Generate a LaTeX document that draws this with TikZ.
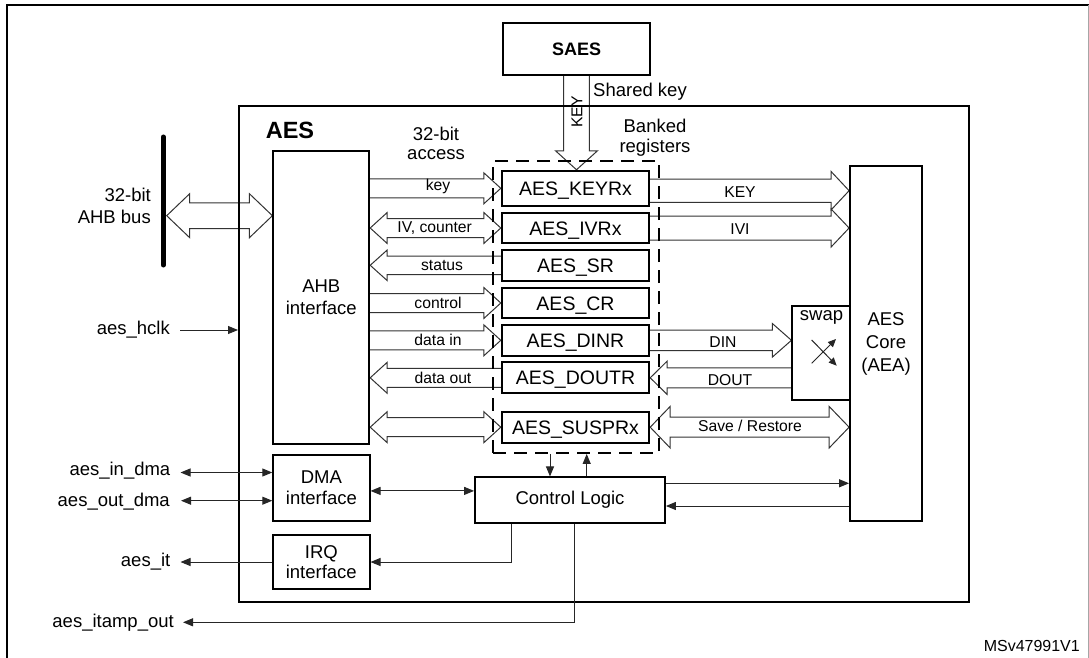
\documentclass[tikz,border=0pt]{standalone}
\usepackage{fontspec}
\setmainfont{Liberation Sans}
\usetikzlibrary{arrows.meta,calc,backgrounds}

\newcommand\hollowR[5]{\draw[hollow] let \p1=(#1), \p2=(#2) in (\x1,\y2+#3pt) -- (\x2-#5pt,\y2+#3pt) -- (\x2-#5pt,\y2+#4pt) -- (\x2,\y2) -- (\x2-#5pt,\y2-#4pt) -- (\x2-#5pt,\y2-#3pt) -- (\x1,\y2-#3pt);}
\newcommand\hollowL[5]{\draw[hollow] let \p1=(#1), \p2=(#2) in (\x1,\y2+#3pt) -- (\x2+#5pt,\y2+#3pt) -- (\x2+#5pt,\y2+#4pt) -- (\x2,\y2) -- (\x2+#5pt,\y2-#4pt) -- (\x2+#5pt,\y2-#3pt) -- (\x1,\y2-#3pt);}
\newcommand\hollowD[5]{\draw[hollow] let \p1=(#1), \p2=(#2) in (\x1,\y1) -- (\x1+#5pt,\y1+#4pt) -- (\x1+#5pt,\y1+#3pt) -- (\x2-#5pt,\y1+#3pt) -- (\x2-#5pt,\y1+#4pt) -- (\x2,\y1) -- (\x2-#5pt,\y1-#4pt) -- (\x2-#5pt,\y1-#3pt) -- (\x1+#5pt,\y1-#3pt) -- (\x1+#5pt,\y1-#4pt) -- cycle;}
\newcommand\hollowV[5]{\draw[hollow] let \p1=(#1), \p2=(#2) in (\x1+#3pt,\y1) -- (\x1+#3pt,\y2+#5pt) -- (\x1+#4pt,\y2+#5pt) -- (\x1,\y2) -- (\x1-#4pt,\y2+#5pt) -- (\x1-#3pt,\y2+#5pt) -- (\x1-#3pt,\y1);}

\begin{document}
\begin{tikzpicture}[x=1pt,y=-1pt,
  box/.style={draw=black, line width=1.8pt, fill=white, inner sep=0pt},
  reg/.style={box, minimum width=147.6pt, text height=14pt, text depth=0pt, font=\fontsize{19.5}{22}\selectfont},
  txt/.style={inner sep=0pt, font=\fontsize{18.5}{21}\selectfont},
  lbl/.style={inner sep=0pt, font=\fontsize{15.7}{18}\selectfont},
  hollow/.style={draw=black!80, line width=1pt, fill=white, line join=miter},
  conn/.style={draw=black!85, line width=1pt},
  tipa/.style={-{Triangle[length=10pt,width=8pt]}},
  dtip/.style={{Triangle[length=10pt,width=8pt]}-{Triangle[length=10pt,width=8pt]}},
  stip/.style={-{Triangle[length=8pt,width=7pt]}}
]
\useasboundingbox (0,0) rectangle (1089,658);

% outer frame
\draw[line width=1.8pt] (7,658) -- (7,5) -- (1089,5);
\draw[black!35, line width=0.8pt] (1088,5) -- (1088,658);

% AES block
\node[draw=black, line width=2pt, minimum width=730pt, minimum height=496pt, inner sep=0pt] (aes) at (604,354) {};
\node[inner sep=0pt, font=\bfseries\fontsize{23.5}{26}\selectfont] (aeslbl) at (290,130) {AES};

% SAES
\node[box, line width=2.4pt, minimum width=147pt, minimum height=52pt, font=\bfseries\fontsize{18}{20}\selectfont] (saes) at (576.5,49) {SAES};

% AHB bus bar
\coordinate (bartop) at (163.3,137);
\coordinate (barbot) at (163.3,265);
\coordinate (barpt) at (166.7,215.7);
\draw[line width=5pt, line cap=round] (bartop) -- (barbot);
\node[txt, align=right, anchor=east, font=\fontsize{18.5}{21.3}\selectfont] (buslbl) at (151,206) {32-bit\\AHB bus};

% main boxes
\node[box, minimum width=96pt, minimum height=293pt, align=center, font=\fontsize{18.5}{21.7}\selectfont] (ahb) at (321.3,297.5) {AHB\\interface};
\node[reg, minimum height=35.3pt] (kr) at (575.5,188.3) {AES\_KEYRx};
\node[reg, minimum height=30.6pt] (ivr) at (575.5,228) {AES\_IVRx};
\node[reg, minimum height=30.7pt] (sr) at (575.5,265.3) {AES\_SR};
\node[reg, minimum height=30.6pt] (cr) at (575.5,303) {AES\_CR};
\node[reg, minimum height=30.7pt] (dinr) at (575.5,340.3) {AES\_DINR};
\node[reg, minimum height=31pt] (doutr) at (575.5,377.8) {AES\_DOUTR};
\node[reg, minimum height=31pt] (suspr) at (575.5,427.2) {AES\_SUSPRx};
\node[box, minimum width=72pt, minimum height=355pt, align=center, font=\fontsize{18.5}{23}\selectfont] (core) at (886,343.5) {AES\\Core\\(AEA)};
\node[box, minimum width=57.7pt, minimum height=94.3pt] (swap) at (821.2,352.9) {};
\node[txt] (swaplbl) at (821.5,317.5) {swap};
\node[box, minimum width=190pt, minimum height=45.7pt, font=\fontsize{18.5}{21}\selectfont] (cl) at (570,500.2) {Control Logic};
\node[box, minimum width=96.4pt, minimum height=65.7pt, align=center, font=\fontsize{18.5}{21}\selectfont] (dma) at (321.4,487.9) {DMA\\interface};
\node[box, minimum width=96.6pt, minimum height=54pt, align=center, font=\fontsize{18.5}{20}\selectfont] (irq) at (321.3,562) {IRQ\\interface};

% banked registers dashed frame
\node[draw=black, line width=1.8pt, dash pattern=on 13pt off 8pt, minimum width=166pt, minimum height=292pt, inner sep=0pt] (bank) at (576,307) {};

% hollow bus arrows
\begin{pgfonlayer}{background}
\hollowD{barpt}{ahb.west |- barpt}{12.8}{22}{23}
\hollowV{saes.south}{kr.north}{12.85}{21}{19}
\hollowR{ahb.east |- kr.west}{kr.west}{9.5}{15.5}{17}
\hollowD{ahb.east |- ivr.west}{ivr.west}{9.5}{15.5}{17}
\hollowL{sr.west}{ahb.east |- sr.west}{9.2}{15.3}{17}
\hollowR{ahb.east |- cr.west}{cr.west}{9.5}{15.5}{17}
\hollowR{ahb.east |- dinr.west}{dinr.west}{9.5}{15.5}{17}
\hollowL{doutr.west}{ahb.east |- doutr.west}{9.5}{15.5}{17}
\hollowD{ahb.east |- suspr.west}{suspr.west}{9.5}{15.5}{17}
\hollowR{$(kr.east)+(0,2.4)$}{$(core.west |- kr.east)+(0,2.4)$}{11.7}{19.2}{18}
\hollowR{ivr.east}{core.west |- ivr.east}{12}{19}{18}
\hollowR{dinr.east}{swap.west |- dinr.east}{10.3}{16.7}{19}
\hollowL{swap.west |- doutr.east}{doutr.east}{10}{16.7}{17}
\hollowD{suspr.east}{core.west |- suspr.east}{10}{20.8}{20}
\end{pgfonlayer}

% labels on buses
\node[lbl, rotate=90] (keyv) at (577,112) {KEY};
\node[txt, anchor=west] (shared) at (593,92) {Shared key};
\node[txt, align=center, font=\fontsize{18.5}{20}\selectfont] (banked) at (655,138) {Banked\\registers};
\node[txt, align=center, font=\fontsize{18.5}{19.5}\selectfont] (access) at (436,143.5) {32-bit\\access};
\node[lbl] (lkey) at (438,186.7) {key};
\node[lbl] (liv) at (434.7,228.3) {IV, counter};
\node[lbl] (lst) at (442,265.3) {status};
\node[lbl] (lctl) at (438,302.7) {control};
\node[lbl] (ldin) at (438,340) {data in};
\node[lbl] (ldout) at (443,377.7) {data out};
\node[lbl] (rkey) at (740,192) {KEY};
\node[lbl] (rivi) at (740,229.3) {IVI};
\node[lbl] (rdin) at (723,341.7) {DIN};
\node[lbl] (rdout) at (730,380) {DOUT};
\node[lbl] (rsave) at (750,425.7) {Save / Restore};

% swap crossing arrows
\draw[conn, stip] ([shift={(-9.5,10.4)}]swap.center) -- ([shift={(14.8,-13.9)}]swap.center);
\draw[conn, stip] ([shift={(-9.5,-12.9)}]swap.center) -- ([shift={(15.5,12.8)}]swap.center);

% external signals
\node[txt, anchor=east] (hclk) at (170,330) {aes\_hclk};
\draw[conn, tipa] ([xshift=10pt]hclk.east) -- (aes.west |- hclk.east);
\node[txt, anchor=east] (indma) at (170.5,471) {aes\_in\_dma};
\draw[conn, dtip] ([shift={(10,1.5)}]indma.east) -- ([shift={(0,1.5)}]indma.east -| dma.west);
\node[txt, anchor=east] (outdma) at (170,501.2) {aes\_out\_dma};
\draw[conn, dtip] ([shift={(11,-0.5)}]outdma.east) -- ([shift={(0,-0.5)}]outdma.east -| dma.west);
\node[txt, anchor=east] (it) at (170.5,562) {aes\_it};
\draw[conn, tipa] (irq.west) -- ([xshift=10pt]it.east |- irq.west);
\node[txt, anchor=east] (itamp) at (174,622.3) {aes\_itamp\_out};
\draw[conn, tipa] ([xshift=4.6pt]cl.south) |- ([xshift=9pt]itamp.east);
\draw[conn, tipa] ([xshift=-59pt]cl.south) |- (irq.east);

% control logic connections
\draw[conn, dtip] ([shift={(0,3)}]dma.east) -- ([shift={(0,3)}]dma.east -| cl.west);
\draw[conn, tipa] ([xshift=-26pt]bank.south) -- ([xshift=-26pt]bank.south |- cl.north);
\draw[conn, tipa] ([xshift=10.7pt]bank.south |- cl.north) -- ([xshift=10.7pt]bank.south);
\draw[conn, tipa] ([shift={(0,-16.9)}]cl.east) -- ([shift={(0,-16.9)}]cl.east -| core.west);
\draw[conn, tipa] ([shift={(0,5.8)}]cl.east -| core.west) -- ([shift={(0,5.8)}]cl.east);

\node[inner sep=0pt, anchor=east, font=\fontsize{16}{18}\selectfont] (msv) at (1080,646) {MSv47991V1};
\end{tikzpicture}
\end{document}
